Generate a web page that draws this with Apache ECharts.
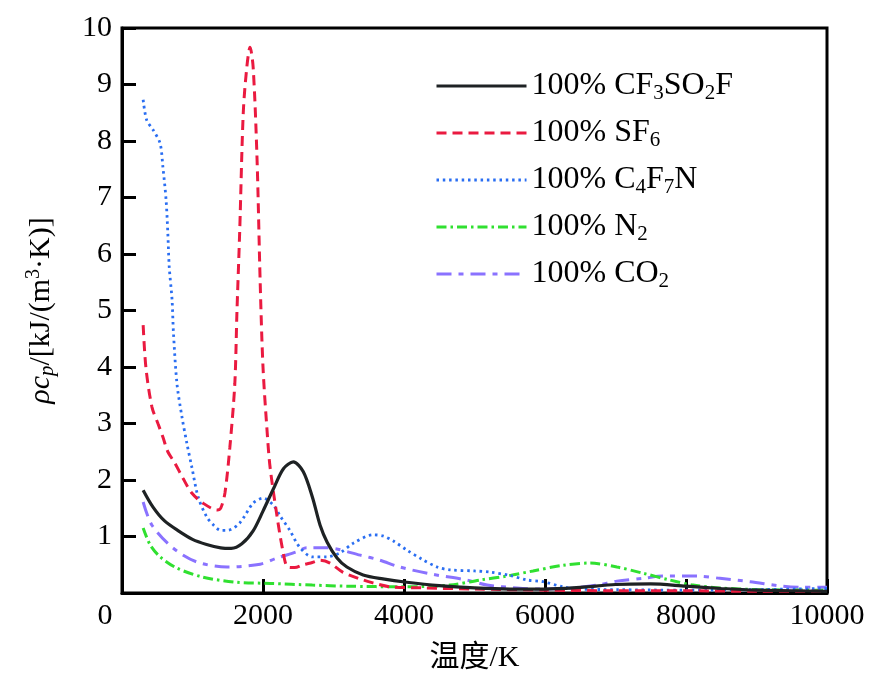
<!DOCTYPE html>
<html>
<head>
<meta charset="utf-8">
<script src="https://cdn.jsdelivr.net/npm/echarts@6/dist/echarts.min.js"></script>
<style>
html,body{margin:0;padding:0;background:#fff;}
#chart{width:883px;height:691px;}
</style>
</head>
<body>
<div id="chart"></div>
<script>
// ---- data ----
const seriesNames = ['100% CF3SO2F', '100% SF6', '100% C4F7N', '100% N2', '100% CO2'];

const tCF3SO2F = [300, 440, 600, 800, 1000, 1200, 1400, 1550, 1700, 1860, 2000, 2150, 2290, 2430, 2570, 2700, 2810, 2910, 3050, 3190, 3420, 3700, 4040, 4500, 5000, 5500, 6000, 6500, 7000, 7500, 8000, 8500, 9000, 9500, 10000];
const vCF3SO2F = [1.82, 1.52, 1.28, 1.10, 0.95, 0.86, 0.80, 0.79, 0.87, 1.10, 1.45, 1.85, 2.20, 2.32, 2.15, 1.70, 1.20, 0.90, 0.62, 0.46, 0.32, 0.25, 0.19, 0.13, 0.09, 0.07, 0.07, 0.10, 0.15, 0.16, 0.12, 0.08, 0.05, 0.04, 0.03];

const tSF6 = [300, 340, 425, 510, 580, 650, 750, 865, 990, 1150, 1350, 1400, 1460, 1530, 1600, 1630, 1670, 1720, 1770, 1816, 1860, 1915, 1960, 2000, 2060, 2100, 2200, 2280, 2350, 2450, 2570, 2700, 2810, 2950, 3130, 3350, 3560, 3800, 4270, 5000, 6000, 7000, 8000, 9000, 10000];
const vSF6 = [4.74, 3.98, 3.29, 3.00, 2.76, 2.50, 2.30, 2.03, 1.77, 1.59, 1.47, 1.50, 1.77, 2.58, 3.70, 4.96, 6.42, 8.50, 9.30, 9.66, 9.31, 7.70, 5.50, 4.00, 2.83, 2.23, 1.35, 0.76, 0.46, 0.45, 0.50, 0.54, 0.58, 0.53, 0.37, 0.26, 0.18, 0.11, 0.09, 0.07, 0.05, 0.04, 0.04, 0.03, 0.03];

const tC4F7N = [300, 350, 440, 540, 580, 625, 650, 670, 710, 730, 780, 850, 920, 990, 1080, 1200, 1300, 1400, 1500, 1670, 1860, 2000, 2150, 2250, 2380, 2520, 2700, 2900, 3090, 3280, 3560, 3700, 3850, 4040, 4250, 4470, 4650, 5000, 5220, 5500, 5750, 5970, 6250, 6500, 7000, 8000, 9000, 10000];
const vC4F7N = [8.73, 8.37, 8.20, 7.96, 7.54, 6.96, 6.37, 5.77, 5.19, 4.60, 3.70, 3.12, 2.65, 2.23, 1.70, 1.35, 1.20, 1.11, 1.11, 1.24, 1.59, 1.68, 1.55, 1.35, 1.11, 0.81, 0.64, 0.64, 0.71, 0.88, 1.03, 1.01, 0.92, 0.76, 0.60, 0.46, 0.41, 0.39, 0.37, 0.31, 0.23, 0.20, 0.11, 0.07, 0.06, 0.05, 0.06, 0.08];

const tN2 = [300, 400, 540, 780, 1150, 1630, 2100, 2700, 3200, 4000, 4650, 5080, 5460, 5830, 6250, 6640, 7020, 7390, 7770, 8100, 8480, 9000, 10000];
const vN2 = [1.15, 0.85, 0.64, 0.44, 0.28, 0.19, 0.17, 0.14, 0.12, 0.11, 0.14, 0.23, 0.30, 0.39, 0.49, 0.53, 0.46, 0.35, 0.23, 0.14, 0.09, 0.06, 0.05];

const tCO2 = [300, 425, 720, 1060, 1490, 1960, 2200, 2480, 2620, 2900, 3380, 3660, 3940, 4410, 4890, 5180, 5600, 5930, 6400, 6740, 7020, 7390, 7670, 8160, 8480, 8910, 9380, 9660, 10000];
const vCO2 = [1.61, 1.20, 0.80, 0.55, 0.46, 0.51, 0.62, 0.73, 0.80, 0.80, 0.67, 0.58, 0.46, 0.33, 0.23, 0.14, 0.09, 0.07, 0.09, 0.14, 0.21, 0.26, 0.30, 0.30, 0.26, 0.20, 0.12, 0.10, 0.10];

const xMin = 0, xMax = 10000, xStep = 2000;
const yMin = 0, yMax = 10, yStep = 1;

// ---- presentation ----
const FONT = "'Liberation Serif', 'Times New Roman', 'Noto Sans CJK SC', serif";
const pair = (t, v) => t.map((x, i) => [x, v[i]]);

const legendRich = {
  '100% CF3SO2F': '{n|100% CF}{s|3}{n|SO}{s|2}{n|F}',
  '100% SF6': '{n|100% SF}{s|6}',
  '100% C4F7N': '{n|100% C}{s|4}{n|F}{s|7}{n|N}',
  '100% N2': '{n|100% N}{s|2}',
  '100% CO2': '{n|100% CO}{s|2}'
};

const styles = [
  {color: '#1e2224', type: 'solid', width: 3.2},
  {color: '#ea1a40', type: [10, 6], width: 3},
  {color: '#2a6ef2', type: [2.5, 3.8], width: 2.8},
  {color: '#30e030', type: [10, 4, 2.5, 4], width: 3},
  {color: '#8a72ff', type: [15, 7, 5, 7], width: 3}
];
const datas = [pair(tCF3SO2F, vCF3SO2F), pair(tSF6, vSF6), pair(tC4F7N, vC4F7N), pair(tN2, vN2), pair(tCO2, vCO2)];

const chart = echarts.init(document.getElementById('chart'), null, {renderer: 'canvas'});
chart.setOption({
  backgroundColor: '#fff',
  animation: false,
  grid: {left: 122, right: 56, top: 28, bottom: 98, show: true, borderColor: '#000', borderWidth: 3, backgroundColor: 'transparent'},
  legend: {
    orient: 'vertical', left: 435, top: 70, padding: 0,
    itemWidth: 90, itemHeight: 14, itemGap: 13, itemTextGap: 7,
    itemStyle: {opacity: 0},
    lineStyle: {width: 3},
    data: seriesNames,
    formatter: name => legendRich[name],
    textStyle: {
      fontFamily: FONT, fontSize: 32, color: '#000',
      rich: {
        n: {fontFamily: FONT, fontSize: 32, color: '#000', lineHeight: 36},
        s: {fontFamily: FONT, fontSize: 21, color: '#000', lineHeight: 21, verticalAlign: 'bottom'}
      }
    }
  },
  xAxis: {
    type: 'value', min: xMin, max: xMax, interval: xStep,
    name: '温度/K', nameLocation: 'middle', nameGap: 50,
    nameTextStyle: {fontFamily: FONT, fontSize: 30, color: '#000'},
    axisLine: {lineStyle: {color: '#000', width: 3}},
    axisTick: {inside: true, length: 14, lineStyle: {color: '#000', width: 3}},
    axisLabel: {
      fontFamily: FONT, fontSize: 30, color: '#000', margin: 8,
      formatter: v => v === 0 ? '{z|0}' : String(v),
      rich: {z: {fontFamily: FONT, fontSize: 30, color: '#000', padding: [0, 34, 0, 0]}}
    },
    splitLine: {show: false}
  },
  yAxis: {
    type: 'value', min: yMin, max: yMax, interval: yStep,
    name: '{i|ρc}{ip|p}{n|/[kJ/(m}{sup|3}{n|·K)]}',
    nameLocation: 'middle', nameGap: 64, nameRotate: 90,
    nameTextStyle: {
      fontFamily: FONT, fontSize: 30, color: '#000',
      rich: {
        i: {fontFamily: FONT, fontSize: 30, fontStyle: 'italic', color: '#000', lineHeight: 34},
        ip: {fontFamily: FONT, fontSize: 21, fontStyle: 'italic', color: '#000', lineHeight: 20, verticalAlign: 'bottom'},
        n: {fontFamily: FONT, fontSize: 30, color: '#000', lineHeight: 34},
        sup: {fontFamily: FONT, fontSize: 20, color: '#000', lineHeight: 20, verticalAlign: 'top'}
      }
    },
    axisLine: {lineStyle: {color: '#000', width: 3}},
    axisTick: {inside: true, length: 14, lineStyle: {color: '#000', width: 3}},
    axisLabel: {fontFamily: FONT, fontSize: 30, color: '#000', margin: 10, showMinLabel: false},
    splitLine: {show: false}
  },
  series: seriesNames.map((n, i) => ({
    name: n, type: 'line', data: datas[i], smooth: 0.3, symbol: 'none',
    color: styles[i].color,
    lineStyle: {color: styles[i].color, type: styles[i].type, width: styles[i].width},
    z: 10 - i
  }))
});
</script>
</body>
</html>
